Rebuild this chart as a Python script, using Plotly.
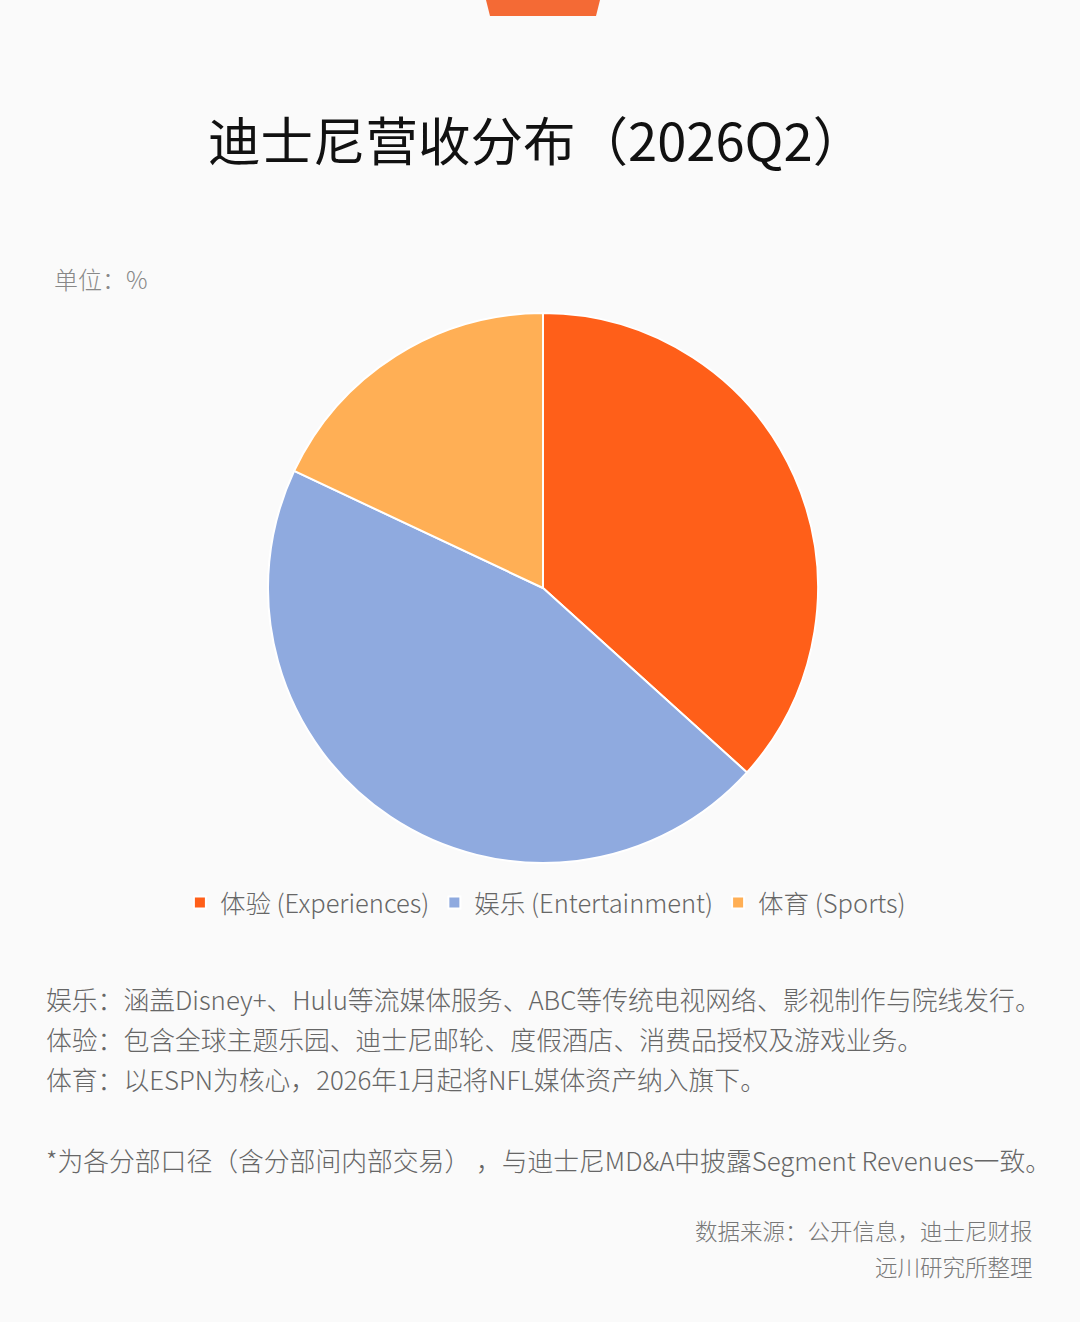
import plotly.graph_objects as go

# =====================================================
# DATA
# =====================================================

segments = ["体验 (Experiences)", "娱乐 (Entertainment)", "体育 (Sports)"]
shares = [36.7, 45.3, 18.0]
colors = ["#FF5F19", "#8FAADF", "#FFAF55"]

notes = [
    "娱乐：涵盖Disney+、Hulu等流媒体服务、ABC等传统电视网络、影视制作与院线发行。",
    "体验：包含全球主题乐园、迪士尼邮轮、度假酒店、消费品授权及游戏业务。",
    "体育：以ESPN为核心，2026年1月起将NFL媒体资产纳入旗下。",
]
footnote = "*为各分部口径（含分部间内部交易） ，与迪士尼MD&A中披露Segment Revenues一致。"
source_lines = ["数据来源：公开信息，迪士尼财报", "远川研究所整理"]

W, H = 1080, 1322
FONT = "Noto Sans CJK SC"
BG = "#FAFAFA"


def py(px_y):
    return 1 - px_y / H


fig = go.Figure()

fig.add_trace(
    go.Pie(
        labels=segments,
        values=shares,
        sort=False,
        direction="clockwise",
        rotation=0,
        textinfo="none",
        marker=dict(colors=colors, line=dict(color="white", width=2)),
        domain=dict(x=[268 / W, 818 / W], y=[py(863), py(313)]),
        hovertemplate="%{label}: %{value}%<extra></extra>",
    )
)

annotations = [
    dict(text="迪士尼营收分布（2026Q2）", x=0.4965, y=py(138),
         font=dict(size=52.5, color="#111111", family=FONT)),
    dict(text="单位：%", x=52 / W, y=py(278), xanchor="left",
         font=dict(size=24, color="#888888", family=FONT, weight=300)),
]

for i, line in enumerate(notes):
    annotations.append(dict(text=line, x=44 / W, y=py(998 + 40 * i), xanchor="left",
                            font=dict(size=25.8, color="#666666", family=FONT, weight=300)))

annotations.append(dict(text=footnote, x=44 / W, y=py(1159), xanchor="left",
                        font=dict(size=25.8, color="#666666", family=FONT, weight=300)))

for i, line in enumerate(source_lines):
    annotations.append(dict(text=line, x=1035 / W, y=py(1230 + 36 * i), xanchor="right",
                            font=dict(size=22.5, color="#777777", family=FONT, weight=300)))

for a in annotations:
    a.update(xref="paper", yref="paper", showarrow=False, yanchor="middle")

fig.update_layout(
    width=W,
    height=H,
    paper_bgcolor=BG,
    plot_bgcolor=BG,
    margin=dict(l=0, r=0, t=0, b=0),
    showlegend=True,
    legend=dict(
        orientation="h",
        x=0.505,
        xanchor="center",
        y=py(903),
        yanchor="middle",
        font=dict(size=25.5, color="#666666", family=FONT, weight=300),
        itemwidth=30,
        traceorder="normal",
    ),
    annotations=annotations,
    shapes=[
        dict(type="path", xref="paper", yref="paper",
             path=f"M {486 / W} {py(0)} L {600 / W} {py(0)} L {596 / W} {py(16)} L {490 / W} {py(16)} Z",
             fillcolor="#F46A35", line=dict(width=0)),
    ],
)

# drop the browser's default page margin so the figure fills the window
fig.write_html(
    "out.html",
    config={"displayModeBar": False},
    post_script="document.body.style.margin='0';document.body.style.background='#FAFAFA';",
)
